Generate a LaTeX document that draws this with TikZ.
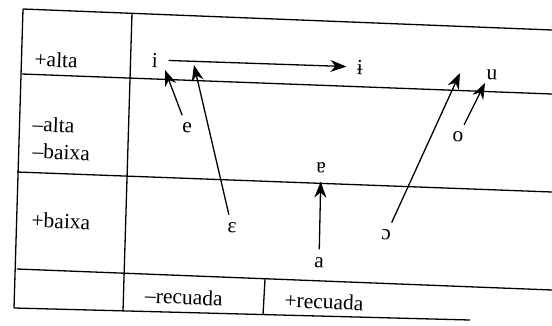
\documentclass[tikz,border=0pt]{standalone}
\usepackage{fontspec}
\setmainfont{Liberation Serif}
\usetikzlibrary{arrows.meta}
\tikzset{
    vowelchart/.style={x=1pt, y=-1pt, >={Stealth[length=16pt, width=12pt]}, line width=1.3pt, font=\fontsize{21.5}{25}\selectfont},
    rowlabel/.style={anchor=west, inner sep=0pt, rotate=-2.2},
    colheading/.style={inner sep=0pt, rotate=-2.2},
    vowel/.style={circle, minimum size=26pt, inner sep=0pt, rotate=-2.2},
    % a raised vowel: arrow from the old vowel to its new place
    raising/.style={->, line width=1.3pt},
}

\begin{document}
\begin{tikzpicture}[vowelchart]
    \useasboundingbox (0,0) rectangle (552,325);

    % the table (the scan is slightly tilted)
    \draw (23,9) -- (552,30);
    \draw (22,74) -- (552,94);
    \draw (17,172) -- (552,192);
    \draw (17,269) -- (552,290);
    \draw (14,308) -- (470,320);
    \draw (23,9) -- (14,308);
    \draw (132,13) -- (123,311);
    \draw (265,279) -- (263,315);

    \node[rowlabel] (alta) at (34,59) {+alta};
    \node[rowlabel] (nonalta) at (32,124) {–alta};
    \node[rowlabel] (nonbaixa) at (32,151) {–baixa};
    \node[rowlabel] (baixa) at (31,220) {+baixa};
    \node[colheading] (nonrecuada) at (184,297) {–recuada};
    \node[rowlabel] (recuada) at (284,300) {+recuada};

    % vowels
    \node[vowel] (i) at (155,60) {i};
    \node[vowel] (ibar) at (360,67) {ɨ};
    \node[vowel] (u) at (492,75) {u};
    \node[vowel] (e) at (187,128) {e};
    \node[vowel] (o) at (458,137) {o};
    \node[vowel] (turneda) at (321,168) {ɐ};
    \node[vowel] (epsilon) at (232,228) {ɛ};
    \node[vowel] (openo) at (386,235) {ɔ};
    \node[vowel] (a) at (319,263) {a};

    \coordinate (eTip) at (165,70);
    \coordinate (epsilonTip) at (194,65);
    \coordinate (openoTip) at (460,73);
    \coordinate (oTip) at (485,83);

    \draw[raising] (i) -- (ibar);
    \draw[raising] (e) -- (eTip);
    \draw[raising] (epsilon) -- (epsilonTip);
    \draw[raising] (a) -- (turneda);
    \draw[raising] (openo) -- (openoTip);
    \draw[raising] (o) -- (oTip);
\end{tikzpicture}
\end{document}
